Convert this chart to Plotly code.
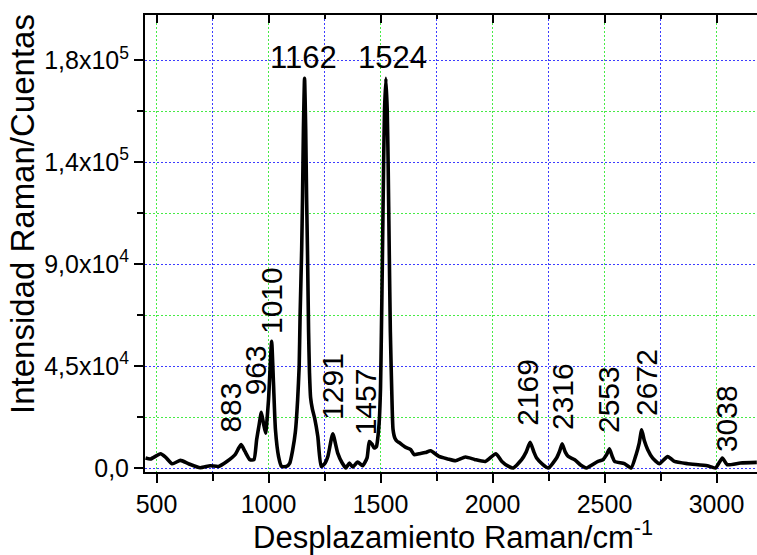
import plotly.graph_objects as go

# Raman spectrum
shift_cm = [451, 473, 518, 540, 570, 607, 643, 695, 740, 777, 814, 851, 866, 878, 895, 917, 935,
            947, 958, 968, 978, 987, 1000, 1014, 1022, 1031, 1045, 1058, 1080, 1095, 1108, 1120,
            1130, 1137, 1141, 1148, 1152, 1156, 1161, 1166, 1170, 1174, 1179, 1183, 1188, 1196,
            1206, 1220, 1235, 1250, 1265, 1287, 1309, 1329, 1346, 1361, 1376, 1398, 1420, 1440,
            1450, 1462, 1472, 1482, 1487, 1494, 1500, 1504, 1509, 1514, 1518, 1524, 1530, 1534,
            1539, 1544, 1550, 1556, 1565, 1575, 1583, 1600, 1613, 1635, 1650, 1672, 1700, 1724,
            1761, 1800, 1835, 1879, 1920, 1968, 2015, 2042, 2070, 2093, 2130, 2150, 2168, 2185,
            2197, 2225, 2249, 2286, 2300, 2311, 2325, 2338, 2367, 2395, 2419, 2471, 2493, 2510,
            2522, 2535, 2545, 2589, 2619, 2641, 2655, 2666, 2678, 2693, 2715, 2745, 2782, 2812,
            2871, 2959, 2996, 3026, 3048, 3107, 3180]
intensity = [4400, 3970, 6300, 4850, 1900, 3350, 1900, 130, 1010, 700, 2900, 5870, 8600, 10300,
             7300, 3660, 3660, 12500, 19000, 24600, 19500, 15400, 30000, 55900, 38000, 16900,
             5000, 700, 700, 2200, 8000, 16000, 30000, 45000, 67000, 96000, 120000, 150000,
             172000, 150000, 120000, 96000, 60000, 42000, 31000, 26000, 22000, 14000, 700, 1800,
             5100, 15100, 6600, 2200, 0, 2200, 440, 2650, 1010, 4500, 11700, 10500, 8800, 9500,
             12500, 19900, 35000, 60000, 96000, 135000, 158000, 172000, 158000, 135000, 96000,
             60000, 35000, 17000, 13000, 11700, 11300, 10000, 9100, 8100, 5900, 6300, 6800,
             7600, 5100, 4000, 3200, 4850, 3800, 2900, 6300, 2900, 800, 0, 3660, 7000, 11300,
             7000, 4400, 1500, 0, 4400, 7500, 10700, 7000, 5100, 3660, 1200, 0, 2900, 3660,
             6000, 8500, 5000, 2900, 1900, 0, 5870, 11000, 16900, 12000, 8100, 4400, 1900, 5100,
             2900, 1900, 1000, 0, 4400, 1450, 2200, 2470]

# peak labels (text, anchor in data units, rotated?)
peak_text = ["883", "963", "1010", "1162", "1291", "1457", "1524",
             "2169", "2316", "2553", "2672", "3038"]
peak_lab_x = [831, 943, 1013, 1155, 1283, 1431, 1552, 2158, 2313, 2521, 2684, 3042]
peak_lab_y = [26500, 43000, 73900, 181200, 36200, 29000, 181200, 33600, 31600, 30100, 37900, 22000]
peak_vertical = [True, True, True, False, True, True, False, True, True, True, True, True]

y_tick_vals = [0, 45000, 90000, 135000, 180000]
y_tick_text = ["0,0", "4,5x10<sup>4</sup>", "9,0x10<sup>4</sup>", "1,4x10<sup>5</sup>", "1,8x10<sup>5</sup>"]
x_tick_vals = [500, 1000, 1500, 2000, 2500, 3000]
x_minor_vals = [750, 1250, 1750, 2250, 2750]
y_minor_vals = [22500, 67500, 112500, 157500]

FONT = "Liberation Sans, Arial, sans-serif"
BLUE = "rgb(60,60,255)"
GREEN = "rgb(70,235,70)"
XR = [448.66, 3180.8]
YR = [-1765, 200000]
DASH = "2px,2px"

fig = go.Figure()
fig.add_trace(go.Scatter(x=shift_cm, y=intensity, mode="lines",
                         line=dict(color="black", width=3.6, shape="spline", smoothing=0.5),
                         showlegend=False, hoverinfo="skip"))
fig.add_trace(go.Scatter(x=XR, y=[None, None], xaxis="x2", mode="lines", showlegend=False))

for t, x, y, v in zip(peak_text, peak_lab_x, peak_lab_y, peak_vertical):
    fig.add_annotation(x=x, y=y, xref="x", yref="y", text=t, showarrow=False,
                       textangle=-90 if v else 0, xanchor="center", yanchor="middle",
                       font=dict(family=FONT, size=30 if v else 31, color="black"))

fig.add_annotation(x=-0.199, y=0.565, xref="paper", yref="paper", text="Intensidad Raman/Cuentas",
                   textangle=-90, showarrow=False, xanchor="center", yanchor="middle",
                   font=dict(family=FONT, size=33, color="black"))
fig.add_annotation(x=0.504, y=-0.187, xref="paper", yref="paper",
                   text="Desplazamiento Raman/cm<sup>-1</sup>", showarrow=False,
                   xanchor="center", yanchor="bottom",
                   font=dict(family=FONT, size=31, color="black"))

fig.update_layout(
    width=757, height=555,
    margin=dict(l=145, r=0, t=15, b=83),
    paper_bgcolor="white", plot_bgcolor="white",
    font=dict(family=FONT, color="black"),
    xaxis=dict(range=XR, tickvals=x_tick_vals, ticks="outside", ticklen=9, tickwidth=2,
               tickcolor="black", showline=True, linecolor="black", linewidth=2,
               tickfont=dict(size=25, family=FONT), zeroline=False,
               showgrid=True, gridcolor=GREEN, griddash=DASH, gridwidth=1,
               minor=dict(tickvals=x_minor_vals, ticks="outside", ticklen=7,
                          tickwidth=2, tickcolor="black", showgrid=True, gridcolor=BLUE,
                          griddash=DASH, gridwidth=1)),
    xaxis2=dict(range=XR, overlaying="x", side="top", tickvals=x_tick_vals, ticks="inside",
                ticklen=8, tickwidth=2, tickcolor="black", showline=True, linecolor="black",
                linewidth=2, showticklabels=False, showgrid=False, zeroline=False,
                minor=dict(tickvals=x_minor_vals, ticks="inside", ticklen=4,
                           tickwidth=2, tickcolor="black", showgrid=False)),
    yaxis=dict(range=YR, tickvals=y_tick_vals, ticktext=y_tick_text, ticks="outside", ticklen=9,
               tickwidth=2, tickcolor="black", showline=True, linecolor="black", linewidth=2,
               tickfont=dict(size=25, family=FONT), zeroline=False,
               showgrid=True, gridcolor=BLUE, griddash=DASH, gridwidth=1,
               minor=dict(tickvals=y_minor_vals, ticks="outside", ticklen=6,
                          tickwidth=2, tickcolor="black", showgrid=True, gridcolor=GREEN,
                          griddash=DASH, gridwidth=1)),
)

fig.write_html("out.html")
